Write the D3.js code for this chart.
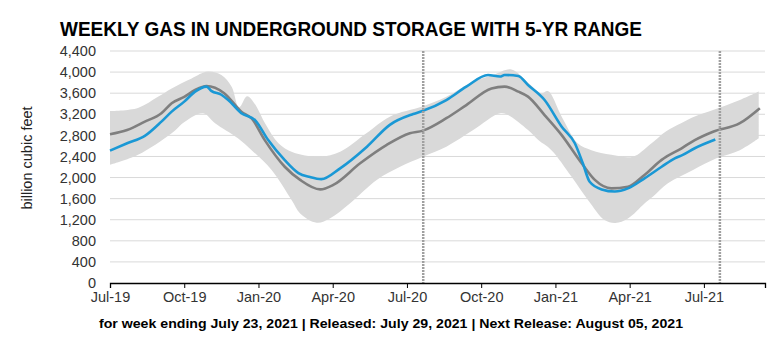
<!DOCTYPE html>
<html>
<head>
<meta charset="utf-8">
<script src="https://cdn.jsdelivr.net/npm/d3@7"></script>
<style>
  html, body { margin: 0; padding: 0; background: #fff; }
  svg { display: block; }
  text { font-family: "Liberation Sans", Arial, sans-serif; }
</style>
</head>
<body>
<div id="chart"></div>
<script>
// ---------- DATA ----------
const titleText = "WEEKLY GAS IN UNDERGROUND STORAGE WITH 5-YR RANGE";
const footerText = "for week ending July 23, 2021 | Released: July 29, 2021 | Next Release: August 05, 2021";
const yTitle = "billion cubic feet";

const tickLabels = ["Jul-19","Oct-19","Jan-20","Apr-20","Jul-20","Oct-20","Jan-21","Apr-21","Jul-21"];
const tickWeeks  = [0, 13, 26, 39, 52, 65, 78, 91, 104];
const yTickValues = [0, 400, 800, 1200, 1600, 2000, 2400, 2800, 3200, 3600, 4000, 4400];

// weeks counted from first week of Jul-2019
const storageWeeks  = [0, 3, 6.1, 9, 10.8, 13, 14.9, 16.9, 17.8, 19.5, 20.7, 23, 25.4, 27.7, 30.6, 33, 35, 37, 40.3, 45, 49, 53.1, 54.8, 58.9, 62.4, 66.2, 68.3, 69.1, 71.5, 73.2, 76.1, 79.1, 81.4, 82.8, 84, 86.1, 88.4, 90.7, 93.6, 96.6, 98.9, 100.3, 102.4, 106];
const storageValues = [2510, 2650, 2790, 3060, 3250, 3440, 3630, 3725, 3640, 3570, 3470, 3220, 3090, 2710, 2330, 2085, 2010, 1970, 2175, 2585, 3000, 3205, 3265, 3470, 3725, 3945, 3915, 3945, 3925, 3755, 3470, 2965, 2650, 2270, 1920, 1775, 1735, 1795, 1985, 2205, 2365, 2430, 2555, 2720];

const avgWeeks  = [0, 3, 6.1, 9, 10.8, 13, 14.9, 16.9, 20, 23, 24.8, 27.1, 30.6, 33.3, 36.8, 39.1, 43.8, 48.4, 52.5, 54.8, 58.9, 62.4, 66.8, 69.1, 71.5, 73.2, 76.1, 79.1, 82.6, 84.9, 87.8, 90.7, 93.6, 96.6, 100.1, 102.4, 105.6, 110.3, 113.8];
const avgValues = [2820, 2900, 3060, 3220, 3410, 3530, 3660, 3735, 3600, 3250, 3120, 2710, 2205, 1955, 1775, 1860, 2270, 2615, 2840, 2890, 3125, 3375, 3690, 3725, 3630, 3535, 3185, 2805, 2270, 1955, 1795, 1825, 2050, 2335, 2555, 2710, 2870, 3030, 3315];

const maxWeeks  = [0, 4.9, 8.4, 10.8, 14.3, 17.1, 19.5, 21.3, 22.6, 24.0, 25.2, 27.3, 29.5, 32.0, 36.8, 40.3, 44.9, 49, 54.8, 58.9, 63.6, 67.1, 70.3, 73.2, 75.5, 76.7, 79.1, 81.9, 84.3, 87.8, 91.6, 94.5, 97.4, 100, 102.4, 105.6, 110.3, 113.6];
const maxValues = [3260, 3320, 3530, 3690, 3880, 4010, 3945, 3720, 3330, 3540, 3420, 3000, 2650, 2480, 2395, 2490, 2840, 3155, 3350, 3530, 3820, 3945, 4050, 3800, 3600, 3640, 3155, 2650, 2520, 2430, 2395, 2620, 2880, 3030, 3160, 3280, 3470, 3630];

const minWeeks  = [0, 4.9, 10.8, 13.1, 16.3, 18.4, 22.4, 24.8, 28.3, 31.8, 33.3, 36.2, 38.5, 42.0, 46.7, 50.8, 54.8, 58.9, 63.6, 68.3, 69.7, 73.2, 75.0, 77.3, 80.8, 83.7, 86.6, 88.5, 90.7, 93.6, 95.1, 97.7, 102.1, 106.2, 110.3, 113.6];
const minValues = [2240, 2430, 2840, 3060, 3220, 3030, 2745, 2520, 2145, 1575, 1320, 1145, 1225, 1510, 1955, 2205, 2395, 2585, 2900, 3220, 3185, 2900, 2710, 2520, 2020, 1575, 1195, 1140, 1225, 1510, 1640, 1890, 2145, 2365, 2520, 2745];

const markerWeeks = [54.85, 106.8];

// ---------- CHART ----------
const W = 781, H = 357;
const svg = d3.select("#chart").append("svg").attr("width", W).attr("height", H);

const x = d3.scaleLinear().domain([0, 114.7]).range([110, 765]);
const y = d3.scaleLinear().domain([0, 4400]).range([283, 51]);

// gridlines
svg.append("g").selectAll("line").data(yTickValues.filter(v => v > 0)).join("line")
  .attr("x1", x(0)).attr("x2", x(114.7))
  .attr("y1", d => y(d)).attr("y2", d => y(d))
  .attr("stroke", "#d9d9d9").attr("stroke-width", 1);

// band
const zip = (ws, vs) => ws.map((w, i) => [w, vs[i]]);
const bandLine = d3.line().x(d => x(d[0])).y(d => y(d[1])).curve(d3.curveCatmullRom.alpha(0.5));
const upperPath = bandLine(zip(maxWeeks, maxValues));
const lowerPath = bandLine(zip(minWeeks, minValues).reverse());
svg.append("path")
  .attr("d", upperPath + "L" + lowerPath.slice(1) + "Z")
  .attr("fill", "#d9d9d9").attr("stroke", "none");

const line = d3.line().x(d => x(d[0])).y(d => y(d[1])).curve(d3.curveMonotoneX);

svg.append("path").attr("d", line(zip(avgWeeks, avgValues)))
  .attr("fill", "none").attr("stroke", "#7f7f7f").attr("stroke-width", 2.6)
  .attr("stroke-linejoin", "round");

svg.append("path").attr("d", line(zip(storageWeeks, storageValues)))
  .attr("fill", "none").attr("stroke", "#1a98d5").attr("stroke-width", 2.6)
  .attr("stroke-linejoin", "round");

// dotted markers
svg.append("g").selectAll("line").data(markerWeeks).join("line")
  .attr("x1", d => x(d)).attr("x2", d => x(d))
  .attr("y1", y(4400)).attr("y2", y(0) + 2)
  .attr("stroke", "#a0a0a0").attr("stroke-width", 2.5)
  .attr("stroke-dasharray", "2,1");

// x axis
const xAxis = d3.axisBottom(x).tickValues(tickWeeks)
  .tickFormat((d, i) => tickLabels[i]).tickSizeOuter(0).tickSize(5).tickPadding(4);
const gx = svg.append("g").attr("transform", `translate(0,${y(0)})`).call(xAxis);
gx.select(".domain").attr("stroke", "#000").attr("stroke-width", 1.3);
gx.selectAll(".tick line").attr("stroke", "#000");
gx.selectAll("text").attr("font-size", 14.5).attr("fill", "#333")
  .attr("font-family", "Liberation Sans, Arial, sans-serif");

// y axis labels
const yAxis = d3.axisLeft(y).tickValues(yTickValues).tickFormat(d3.format(",")).tickSize(0).tickPadding(0);
const gy = svg.append("g").attr("transform", "translate(96,0)").call(yAxis);
gy.select(".domain").remove();
gy.selectAll("text").attr("font-size", 14.5).attr("fill", "#333")
  .attr("font-family", "Liberation Sans, Arial, sans-serif");

// y title
svg.append("text")
  .attr("transform", "translate(32,158) rotate(-90)")
  .attr("text-anchor", "middle")
  .attr("font-size", 14.5).attr("fill", "#222")
  .text(yTitle);

// title
svg.append("text")
  .attr("x", 60).attr("y", 36)
  .attr("font-size", 21).attr("font-weight", "bold").attr("fill", "#000")
  .attr("textLength", 582).attr("lengthAdjust", "spacingAndGlyphs")
  .text(titleText);

// footer
svg.append("text")
  .attr("x", 99).attr("y", 328)
  .attr("font-size", 13.5).attr("font-weight", "bold").attr("fill", "#000")
  .attr("textLength", 584).attr("lengthAdjust", "spacingAndGlyphs")
  .text(footerText);
</script>
</body>
</html>
